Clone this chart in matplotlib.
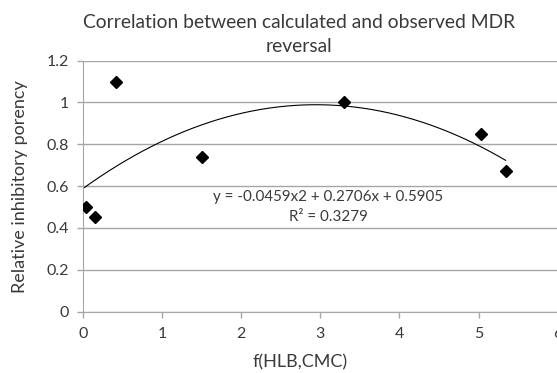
import numpy as np
import matplotlib
matplotlib.use('Agg')
import matplotlib.pyplot as plt

# valores
x_vals = [0.04, 0.16, 0.42, 1.50, 3.30, 5.03, 5.34]
y_vals = [0.50, 0.45, 1.095, 0.74, 1.00, 0.85, 0.67]
x_ticks = [0, 1, 2, 3, 4, 5, 6]
y_ticks = [0, 0.2, 0.4, 0.6, 0.8, 1.0, 1.2]
y_ticklabels = ['0', '0.2', '0.4', '0.6', '0.8', '1', '1.2']
eq_text = 'y = -0.0459x2 + 0.2706x + 0.5905'
r2_text = 'R² = 0.3279'

plt.rcParams['font.family'] = ['Lato', 'DejaVu Sans']
gris = '#a6a6a6'
texto = '#3a3a3a'

fig = plt.figure(figsize=(5.57, 3.73), dpi=100)
ax = fig.add_axes([82.7/557, 61.5/373, 475.2/557, 251/373])

# linea de tendencia polinomica (orden 2)
coef = np.polyfit(x_vals, y_vals, 2)
xs = np.linspace(0, max(x_vals), 200)
ax.plot(xs, np.polyval(coef, xs), color='black', lw=0.8, zorder=2)
ax.plot(x_vals, y_vals, 'D', color='black', ms=6.5, zorder=3)

ax.set_xlim(0, 6)
ax.set_ylim(0, 1.2)
ax.set_xticks(x_ticks)
ax.set_yticks(y_ticks)
ax.set_yticklabels(y_ticklabels)
ax.yaxis.grid(True, color=gris, lw=1)
ax.set_axisbelow(True)
for s in ['top', 'right']:
    ax.spines[s].set_visible(False)
for s in ['left', 'bottom']:
    ax.spines[s].set_color(gris)
ax.tick_params(colors=gris, labelcolor=texto, length=4, width=1, labelsize=11.5)
ax.tick_params(axis='y', pad=6)
ax.tick_params(axis='x', pad=7)

ax.text(3.10, 0.548, eq_text, ha='center', va='center', fontsize=10.9, color=texto)
ax.text(3.10, 0.452, r2_text, ha='center', va='center', fontsize=10.9, color=texto)

fig.text(299/557, 1 - 22/373, 'Correlation between calculated and observed MDR',
         ha='center', va='center', fontsize=13.9, color=texto)
fig.text(299/557, 1 - 46/373, 'reversal', ha='center', va='center', fontsize=13.9, color=texto)
fig.text(300/557, 1 - 362/373, 'f(HLB,CMC)', ha='center', va='center', fontsize=13, color=texto)
fig.text(20/557, 1 - 187/373, 'Relative inhibitory porency', rotation=90,
         ha='center', va='center', fontsize=13, color=texto)

plt.savefig('out.png', dpi=100)
plt.close()
